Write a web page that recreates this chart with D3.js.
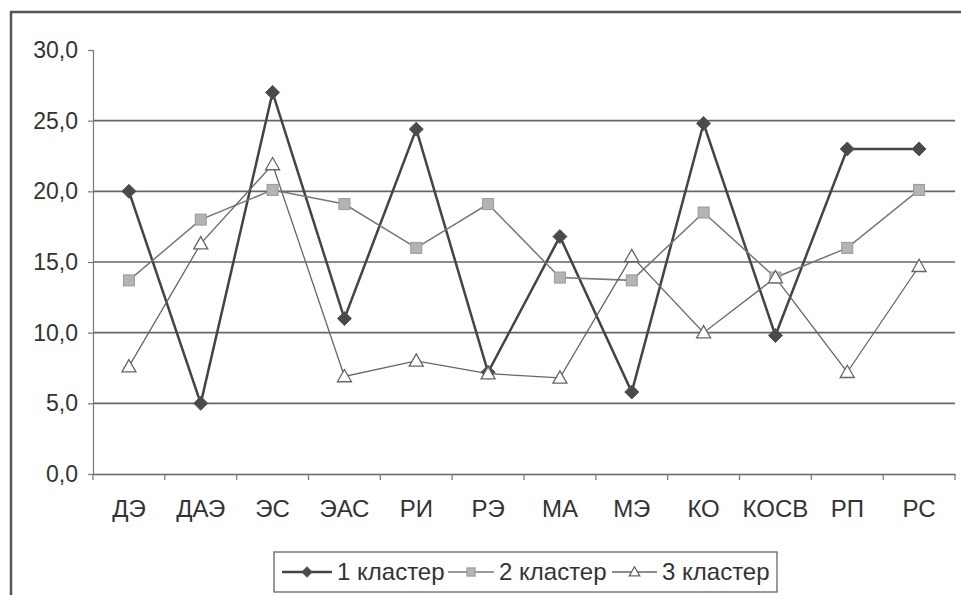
<!DOCTYPE html>
<html><head><meta charset="utf-8">
<script src="https://cdn.jsdelivr.net/npm/d3@7"></script>
<style>body{margin:0;background:#fff;}svg{display:block;}</style>
</head><body>
<svg id="chart" width="961" height="595"></svg>
<script>
const categories = ["ДЭ","ДАЭ","ЭС","ЭАС","РИ","РЭ","МА","МЭ","КО","КОСВ","РП","РС"];
const cluster1 = [20.0, 5.0, 27.0, 11.0, 24.4, 7.2, 16.8, 5.8, 24.8, 9.8, 23.0, 23.0];
const cluster2 = [13.7, 18.0, 20.1, 19.1, 16.0, 19.1, 13.9, 13.7, 18.5, 13.9, 16.0, 20.1];
const cluster3 = [7.6, 16.3, 21.9, 6.9, 8.0, 7.1, 6.8, 15.4, 10.0, 13.9, 7.2, 14.7];
const seriesNames = ["1 кластер","2 кластер","3 кластер"];
const yTicks = [0,5,10,15,20,25,30];

const svg = d3.select("#chart");
const font = "'Liberation Sans', Arial, sans-serif";

// outer chart frame
svg.append("path").attr("d","M11,600 V12 H970")
  .attr("fill","none").attr("stroke","#555").attr("stroke-width",2.5);

const x = d3.scaleBand().domain(categories).range([93,955]);
const y = d3.scaleLinear().domain([0,30]).range([474,50]);

// gridlines
svg.append("g").selectAll("line").data(yTicks.filter(t=>t>0 && t<30)).join("line")
  .attr("x1",93).attr("x2",955).attr("y1",d=>y(d)).attr("y2",d=>y(d))
  .attr("stroke","#666").attr("stroke-width",1.6);

// y axis
const yAx = svg.append("g").attr("transform","translate(93,0)")
  .call(d3.axisLeft(y).tickValues(yTicks).tickSize(5).tickPadding(10)
    .tickFormat(d=>d3.format(".1f")(d).replace(".",",")));
yAx.select(".domain").attr("stroke","#777").attr("stroke-width",1.2);
yAx.selectAll(".tick line").attr("stroke","#777").attr("stroke-width",1.2);
yAx.selectAll("text").attr("font-family",font).attr("font-size",23).attr("fill","#333");

// x axis
const xAx = svg.append("g").attr("transform","translate(0,474)")
  .call(d3.axisBottom(x).tickSize(0).tickPadding(26));
xAx.select(".domain").attr("stroke","#666").attr("stroke-width",1.6);
xAx.selectAll("text").attr("font-family",font).attr("font-size",24).attr("fill","#333");
// x tick marks at category boundaries
const bounds = categories.map(c=>x(c)).concat([x.range()[1]]);
svg.append("g").selectAll("line").data(bounds).join("line")
  .attr("x1",d=>d).attr("x2",d=>d).attr("y1",474).attr("y2",480)
  .attr("stroke","#777").attr("stroke-width",1.2);

const cx = c => x(c) + x.bandwidth()/2;
const line = d3.line().x((d,i)=>cx(categories[i])).y(d=>y(d));

const styles = [
  {data: cluster1, stroke:"#444", width:2.5},
  {data: cluster2, stroke:"#777", width:1.5},
  {data: cluster3, stroke:"#666", width:1.3}
];
styles.forEach(s=>{
  svg.append("path").datum(s.data).attr("d",line)
    .attr("fill","none").attr("stroke",s.stroke).attr("stroke-width",s.width);
});

function marker(g, type, px, py, scale){
  scale = scale||1;
  if(type===0){
    const r=7*scale;
    g.append("path").attr("d",`M${px},${py-r}L${px+r},${py}L${px},${py+r}L${px-r},${py}Z`)
      .attr("fill","#4a4a4a").attr("stroke","#555").attr("stroke-width",1);
  } else if(type===1){
    const s=5.5*scale;
    g.append("rect").attr("x",px-s).attr("y",py-s).attr("width",2*s).attr("height",2*s)
      .attr("fill","#b4b4b4").attr("stroke","#999").attr("stroke-width",1);
  } else {
    const s=7*scale;
    g.append("path").attr("d",`M${px},${py-s}L${px+s},${py+s*0.75}L${px-s},${py+s*0.75}Z`)
      .attr("fill","#fff").attr("stroke","#666").attr("stroke-width",1.3);
  }
}
const mg = svg.append("g");
styles.forEach((s,k)=>{
  s.data.forEach((v,i)=>marker(mg,k,cx(categories[i]),y(v)));
});

// legend
const lg = svg.append("g");
lg.append("rect").attr("x",274).attr("y",552).attr("width",503).attr("height",40)
  .attr("fill","#fff").attr("stroke","#666").attr("stroke-width",1.3);
const legX = [[282,332], [448,494], [612,657]];
seriesNames.forEach((n,k)=>{
  const [x0,x1] = legX[k], ly = 572;
  lg.append("line").attr("x1",x0).attr("x2",x1).attr("y1",ly).attr("y2",ly)
    .attr("stroke",styles[k].stroke).attr("stroke-width",styles[k].width);
  marker(lg,k,(x0+x1)/2,ly,0.75);
  lg.append("text").attr("x",x1+5).attr("y",ly).attr("dy","0.35em")
    .attr("font-family",font).attr("font-size",24).attr("fill","#333").text(n);
});
</script>
</body></html>
